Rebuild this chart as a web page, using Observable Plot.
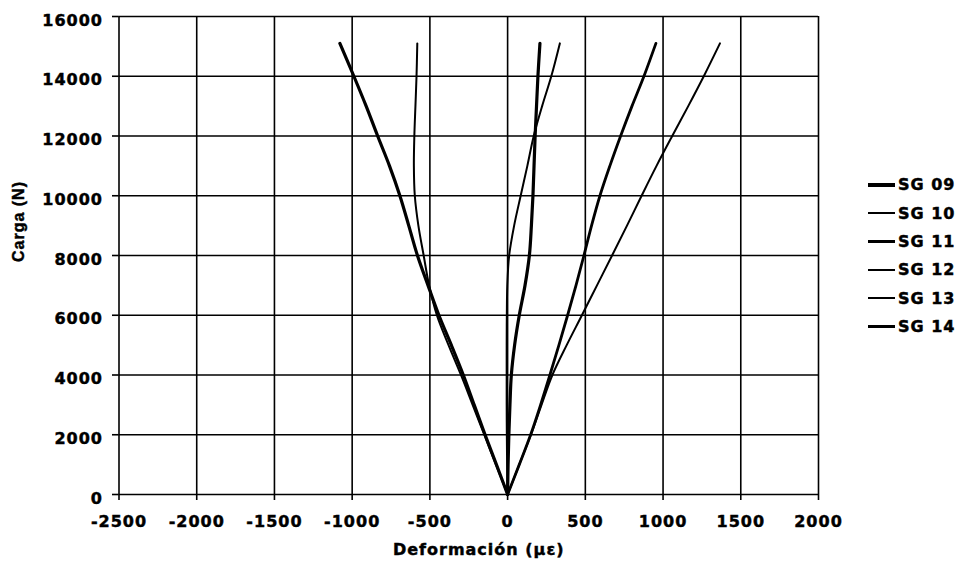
<!DOCTYPE html>
<html>
<head>
<meta charset="utf-8">
<script src="https://cdn.jsdelivr.net/npm/d3@7"></script>
<script src="https://cdn.jsdelivr.net/npm/@observablehq/plot@0.6"></script>
<style>
  body { margin: 0; background: #fff; }
  #wrap { position: relative; width: 965px; height: 576px; background: #fff; }
  #wrap svg text { letter-spacing: 1px; stroke: #000; stroke-width: 0.45px; }
  #legend { position: absolute; left: 868px; top: 170.8px; font-family: "DejaVu Sans", sans-serif; font-weight: bold; font-size: 16px; color: #000; letter-spacing: 1px; -webkit-text-stroke: 0.45px #000; }
  .row { display: flex; align-items: center; height: 28.33px; }
  .swatch { width: 27px; background: #000; margin-right: 3px; }
</style>
</head>
<body>
<div id="wrap"></div>
<script>
// Load (N) at which strains were read
const loads = [0, 1000, 2000, 3000, 4000, 5000, 6000, 7000, 8000, 9000, 10000, 11000, 12000, 13000, 14000, 15100];
// Strain (µε) for each gauge
const sg09 = [0, -72, -145, -215, -285, -362, -442, -512, -580, -636, -693, -760, -836, -910, -989, -1079];
const sg10 = [0, -75, -150, -225, -300, -380, -455, -505, -540, -574, -597, -603, -600, -593, -586, -581];
const sg11 = [0, 3, 8, 15, 24, 45, 75, 112, 140, 153, 163, 170, 177, 186, 195, 208];
const sg12 = [0, -3, -5, -6, -6, -6, -5, -2, 10, 42, 84, 127, 168, 222, 281, 336];
const sg13 = [0, 75, 150, 218, 288, 380, 478, 575, 672, 768, 862, 958, 1059, 1162, 1262, 1366];
const sg14 = [0, 75, 148, 212, 272, 330, 386, 440, 491, 540, 594, 658, 727, 800, 877, 954];

const seriesNames = ["SG 09", "SG 10", "SG 11", "SG 12", "SG 13", "SG 14"];
const seriesValues = [sg09, sg10, sg11, sg12, sg13, sg14];
const xTicks = [-2500, -2000, -1500, -1000, -500, 0, 500, 1000, 1500, 2000];
const yTicks = [0, 2000, 4000, 6000, 8000, 10000, 12000, 14000, 16000];
const xTitle = "Deformación (με)";
const yTitle = "Carga (N)";

// styling per series (not data)
const widths = [3.2, 2, 3.2, 2, 2, 2.8];

const tables = seriesValues.map((vals, i) =>
  vals.map((v, j) => ({ series: seriesNames[i], strain: v, load: loads[j] }))
);

const font = "DejaVu Sans, sans-serif";
const fmt = d => String(d);

const plot = Plot.plot({
  width: 965,
  height: 576,
  marginLeft: 118.5,
  marginRight: 147,
  marginTop: 16,
  marginBottom: 82,
  x: { domain: [-2500, 2000] },
  y: { domain: [0, 16000] },
  style: { fontFamily: font, fontSize: "16px", fontWeight: "bold", color: "#000", background: "#fff" },
  marks: [
    Plot.gridX(xTicks, { stroke: "#000", strokeOpacity: 1, strokeWidth: 1.6 }),
    Plot.gridY(yTicks, { stroke: "#000", strokeOpacity: 1, strokeWidth: 1.6 }),
    Plot.axisX(xTicks, { tickSize: 6, strokeWidth: 1.6, tickFormat: () => "", label: null }),
    Plot.axisY(yTicks, { tickSize: 6.5, strokeWidth: 1.6, tickFormat: () => "", label: null }),
    Plot.axisX(xTicks, { tickSize: 0, tickPadding: 21, tickFormat: fmt, label: null, fontSize: 16, fontWeight: "bold", fill: "#000" }),
    Plot.axisY(yTicks, { tickSize: 0, tickPadding: 16, dy: 4, tickFormat: fmt, label: null, fontSize: 16, fontWeight: "bold", fill: "#000" }),
    ...tables.map((t, i) => Plot.line(t, { x: "strain", y: "load", stroke: "#000", strokeWidth: widths[i], curve: "catmull-rom", strokeLinejoin: "round", strokeLinecap: "round" })),
    Plot.text([xTitle], { frameAnchor: "bottom", dx: 10, dy: 60, fontSize: 16, fontWeight: "bold", fill: "#000", textAnchor: "middle" }),
    Plot.text([yTitle], { frameAnchor: "left", dx: -100, dy: -34, rotate: -90, fontSize: 16, fontWeight: "bold", fill: "#000", fontFamily: "Liberation Sans, Arial, sans-serif", textAnchor: "middle" })
  ]
});

const wrap = document.getElementById("wrap");
wrap.appendChild(plot);

const legend = document.createElement("div");
legend.id = "legend";
seriesNames.forEach((name, i) => {
  const row = document.createElement("div");
  row.className = "row";
  const sw = document.createElement("span");
  sw.className = "swatch";
  sw.style.height = widths[i] + "px";
  const label = document.createElement("span");
  label.textContent = name;
  row.appendChild(sw);
  row.appendChild(label);
  legend.appendChild(row);
});
wrap.appendChild(legend);
</script>
</body>
</html>
